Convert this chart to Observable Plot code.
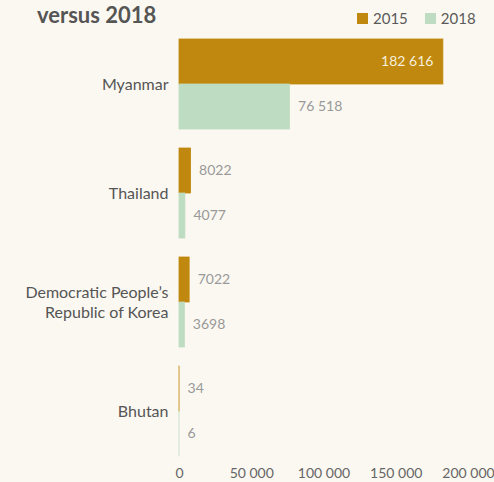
<!DOCTYPE html>
<html>
<head>
<meta charset="utf-8">
<script src="https://cdn.jsdelivr.net/npm/d3@7"></script>
<script src="https://cdn.jsdelivr.net/npm/@observablehq/plot@0.6"></script>
<style>
html, body { margin: 0; padding: 0; background: #fbf8f1; overflow: hidden; }
#wrap { position: relative; width: 494px; height: 482px; overflow: hidden; font-family: Lato, "Open Sans", sans-serif; }
#chart { position: absolute; left: 0; top: 0; }
#title { position: absolute; left: 37px; top: 1px; font-size: 22px; font-weight: 700; color: #555; line-height: 28px; white-space: nowrap; }
#legend { position: absolute; left: 357px; top: 8px; display: flex; align-items: center; font-size: 15px; color: #5a5a5a; line-height: 20px; }
#legend .item { display: flex; align-items: center; margin-right: 17px; }
#legend .item:last-child { margin-right: 0; }
#legend .sw { width: 11px; height: 11px; margin-right: 5px; }
</style>
</head>
<body>
<div id="wrap">
  <div id="chart"></div>
  <div id="title">versus 2018</div>
  <div id="legend"></div>
</div>
<script>
const countries = ["Myanmar", "Thailand", "Democratic People’s Republic of Korea", "Bhutan"];
const countryLabels = ["Myanmar", "Thailand", "Democratic People’s\nRepublic of Korea", "Bhutan"];
const years = ["2015", "2018"];
const values2015 = [182616, 8022, 7022, 34];
const values2018 = [76518, 4077, 3698, 6];
const xTicks = [0, 50000, 100000, 150000, 200000];
const colors = ["#c0880e", "#bedcc2"];

const fmt = v => v >= 10000 ? d3.format(",")(v).replace(/,/g, " ") : String(v);

const data = [];
countries.forEach((c, i) => {
  data.push({country: c, year: years[0], value: values2015[i]});
  data.push({country: c, year: years[1], value: values2018[i]});
});
const labelOf = c => countryLabels[countries.indexOf(c)];

const H = 482;
const chart = Plot.plot({
  width: 494,
  height: H,
  marginLeft: 179,
  marginRight: 26,
  marginTop: 37,
  marginBottom: H - 456.7,
  style: { background: "transparent", fontFamily: "Lato, 'Open Sans', sans-serif" },
  x: { domain: [0, 200000] },
  y: { domain: years, padding: 0, axis: null },
  fy: { domain: countries, padding: 0.169 },
  color: { domain: years, range: colors },
  marks: [
    Plot.axisX({ ticks: xTicks, tickFormat: fmt, tickSize: 0, tickPadding: 12, fontSize: 14, fill: "#666", label: null }),
    Plot.axisFy({ anchor: "left", tickFormat: labelOf, tickSize: 0, tickPadding: 11, fontSize: 16, fill: "#555", lineHeight: 1.25, label: null }),
    Plot.barX(data, { fy: "country", y: "year", x: "value", fill: "year", stroke: "year", strokeWidth: 0.8 }),
    Plot.text(data.filter(d => d.value > 100000), { fy: "country", y: "year", x: "value", text: d => fmt(d.value), textAnchor: "end", dx: -10, fill: "#f6efdc", fontSize: 14 }),
    Plot.text(data.filter(d => d.value <= 100000), { fy: "country", y: "year", x: "value", text: d => fmt(d.value), textAnchor: "start", dx: 8, fill: "#999", fontSize: 14 })
  ]
});
document.getElementById("chart").appendChild(chart);

const legend = document.getElementById("legend");
years.forEach((y, i) => {
  const item = document.createElement("div");
  item.className = "item";
  const sw = document.createElement("div");
  sw.className = "sw";
  sw.style.background = colors[i];
  const t = document.createElement("span");
  t.textContent = y;
  item.appendChild(sw);
  item.appendChild(t);
  legend.appendChild(item);
});
</script>
</body>
</html>
